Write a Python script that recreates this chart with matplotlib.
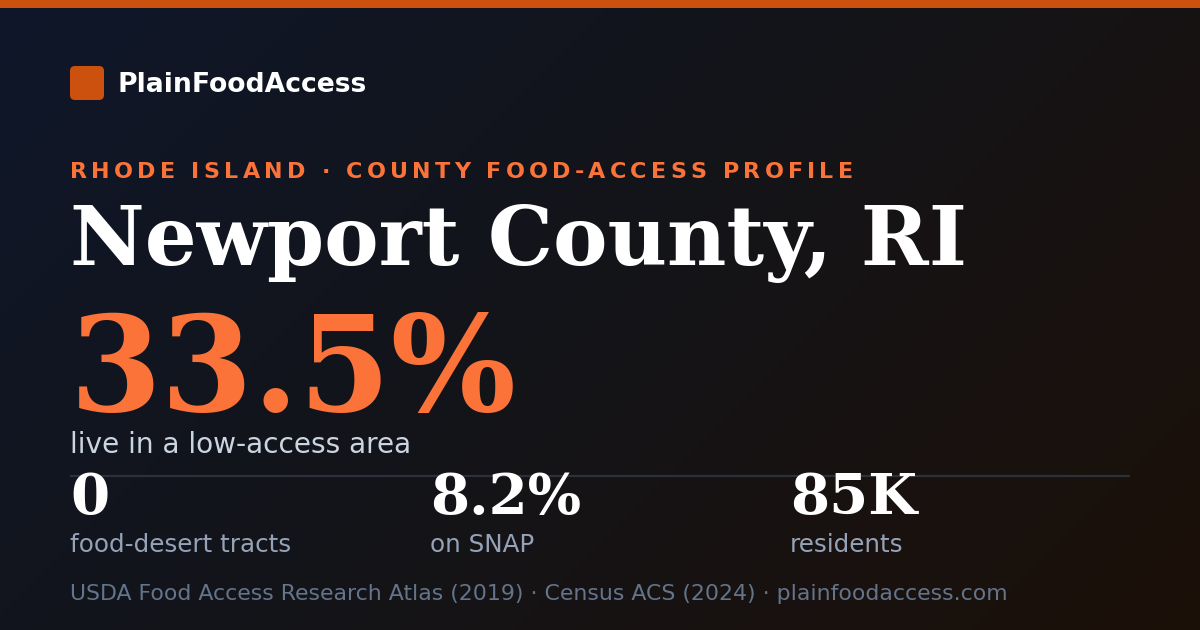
import numpy as np
import matplotlib
matplotlib.use("Agg")
import matplotlib.pyplot as plt
from matplotlib.patches import FancyBboxPatch, Rectangle
from matplotlib.colors import LinearSegmentedColormap
from matplotlib.textpath import TextToPath
from matplotlib.font_manager import FontProperties

# ---- data ----
brand = "PlainFoodAccess"
kicker = "RHODE ISLAND · COUNTY FOOD-ACCESS PROFILE"
title = "Newport County, RI"
headline_value = "33.5%"
headline_label = "live in a low-access area"
stat_values = ["0", "8.2%", "85K"]
stat_labels = ["food-desert tracts", "on SNAP", "residents"]
footer = "USDA Food Access Research Atlas (2019) · Census ACS (2024) · plainfoodaccess.com"

W, H = 1200, 630
fig = plt.figure(figsize=(W / 100, H / 100), dpi=100)
ax = fig.add_axes([0, 0, 1, 1])
ax.set_xlim(0, W)
ax.set_ylim(H, 0)
ax.axis("off")

# background diagonal gradient (135deg)
yy, xx = np.mgrid[0:H:2, 0:W:2]
t = (xx + yy) / (W + H)
cmap = LinearSegmentedColormap.from_list(
    "bg", [(0.0, "#0f172a"), (0.5, "#141418"), (1.0, "#1c1008")])
ax.imshow(t, cmap=cmap, vmin=0, vmax=1, extent=(0, W, H, 0), aspect="auto",
          zorder=0, interpolation="bilinear")

# top bar
ax.add_patch(Rectangle((0, 0), W, 8, color="#cc500e", zorder=2, lw=0))
# logo square
ax.add_patch(FancyBboxPatch((70 + 5, 66 + 5), 34 - 10, 34 - 10,
                            boxstyle="round,pad=5", fc="#cc500e", ec="none", zorder=2))

fig.canvas.draw()
r = fig.canvas.get_renderer()

def fit(x, y, s, target_w, color, family, weight="normal", start=20):
    txt = ax.text(x, y, s, color=color, fontsize=start, family=family,
                  weight=weight, va="baseline", ha="left", zorder=3)
    w = txt.get_window_extent(renderer=r).width
    txt.set_fontsize(start * target_w / w)
    return txt

fit(118, 92, brand, 250, "white", "DejaVu Sans", "bold")

# letter-spaced kicker (advance widths in pixels)
ks = 16.0
ks_px = ks * 100 / 72
prop = FontProperties(family="DejaVu Sans", weight="bold", size=ks_px)
ttp = TextToPath()
adv = []
for ch in kicker:
    w_ch, _, _ = ttp.get_text_width_height_descent(ch, prop, ismath=False)
    adv.append(w_ch)
target = 853 - 70
spacing = (target - sum(adv)) / (len(kicker) - 1)
x = 70.0
for ch, w_ch in zip(kicker, adv):
    if ch != " ":
        ax.text(x, 178, ch, color="#fb7338", fontsize=ks, family="DejaVu Sans",
                weight="bold", va="baseline", ha="left", zorder=3)
    x += w_ch + spacing

fit(70, 265, title, 898, "white", "DejaVu Serif", "bold", 60)
fit(70, 411, headline_value, 447, "#fb7338", "DejaVu Serif", "bold", 99)
ax.text(70, 453, headline_label, color="#cbd5e1", fontsize=20.2, family="DejaVu Sans",
        va="baseline", ha="left", zorder=3)

ax.plot([70, 1130], [475.5, 475.5], color="#2b303b", lw=1.6, zorder=1.5,
        solid_capstyle="butt")

xs = [70, 430, 790]
for xv, v, lab in zip(xs, stat_values, stat_labels):
    ax.text(xv, 514, v, color="white", fontsize=40.5, family="DejaVu Serif",
            weight="bold", va="baseline", ha="left", zorder=3)
    ax.text(xv, 552, lab, color="#94a3b8", fontsize=17.7, family="DejaVu Sans",
            va="baseline", ha="left", zorder=3)

fit(70, 600, footer, 936, "#64748b", "DejaVu Sans", "normal", 17)

fig.savefig("out.png", dpi=100)
